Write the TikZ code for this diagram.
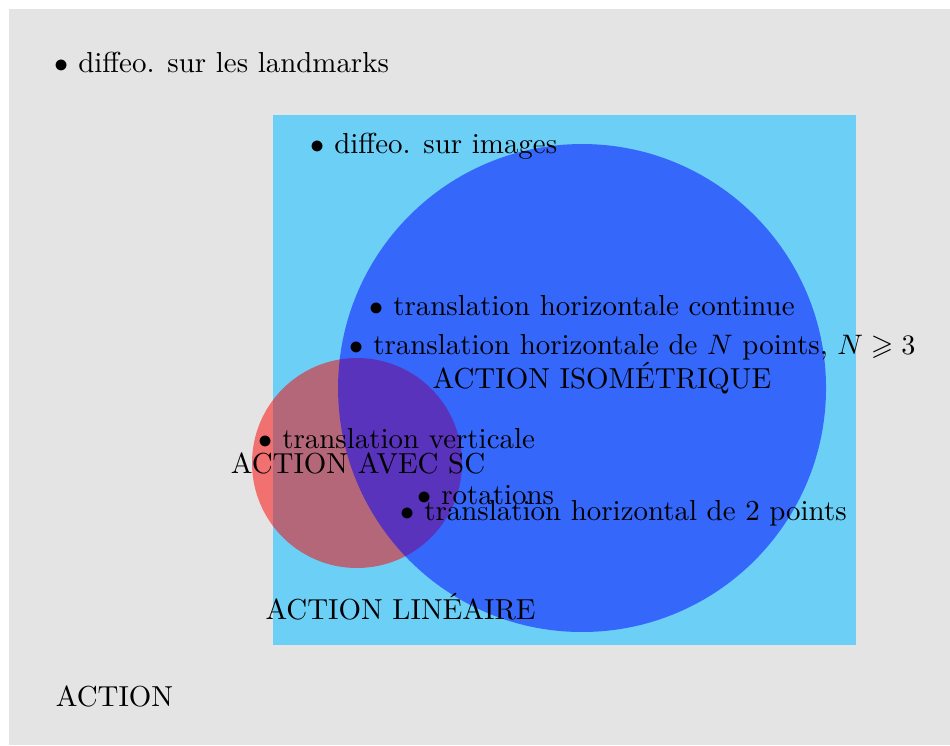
\documentclass[tikz,border=0pt]{standalone}
\usepackage{amssymb}
\usepackage{tikz}
\usetikzlibrary{%
   calc,%
   positioning,%
   backgrounds}
\definecolor{fondgris}{RGB}{228,228,228}
\definecolor{bleuclair}{RGB}{107,207,246}

\begin{document}
\begin{tikzpicture}[every node/.style={font=\fontsize{10.26pt}{12.3pt}\selectfont}, item/.style={inner sep=0pt,anchor=base west}, titre/.style={inner sep=0pt,anchor=base}]
		\useasboundingbox (0,0) rectangle (11.845,9.289);
		\fill[fondgris] (0.112,0) rectangle (11.845,9.177);
		\fill[bleuclair] (3.404,1.247) rectangle (10.673,7.855);
		\fill[red,opacity=0.5] (4.451,3.516) circle (1.309);
		\fill[blue,opacity=0.5] (7.257,4.451) circle (3.042);
		\node[item] (lm) at (0.673,8.379) {$\bullet$ diffeo. sur les landmarks};
		\node[item] (im) at (3.865,7.369) {$\bullet$ diffeo. sur images};
		\node[item] (thc) at (4.601,5.349) {$\bullet$ translation horizontale continue};
		\node[item] (thn) at (4.352,4.863) {$\bullet$ translation horizontale de $N$ points, $N\geqslant 3$};
		\node[titre] (iso) at (7.506,4.439) {ACTION ISOM\'ETRIQUE};
		\node[item] (tv) at (3.217,3.691) {$\bullet$ translation verticale};
		\node[titre] (sc) at (4.464,3.379) {ACTION AVEC SC};
		\node[item] (rot) at (5.200,2.993) {$\bullet$ rotations};
		\node[item] (th2) at (4.988,2.793) {$\bullet$ translation horizontal de 2 points};
		\node[titre] (lin) at (4.994,1.559) {ACTION LIN\'EAIRE};
		\node[titre] (act) at (1.428,0.474) {ACTION};
	\end{tikzpicture}
\end{document}
